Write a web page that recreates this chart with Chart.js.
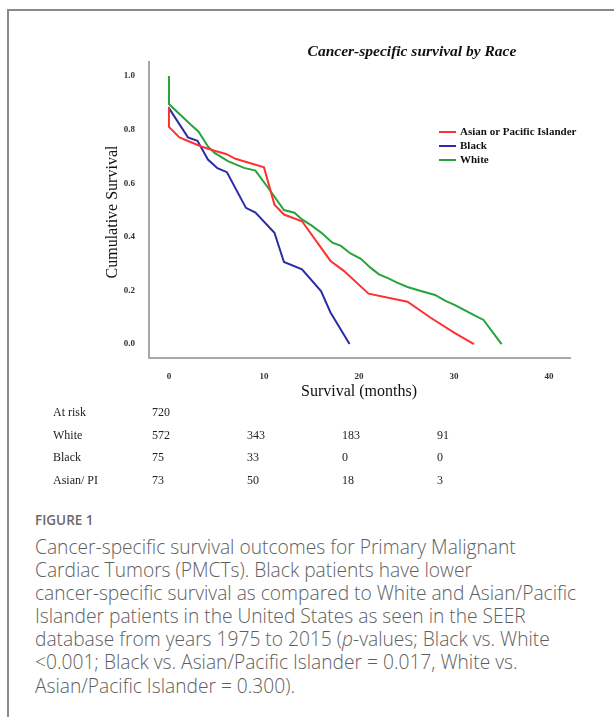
<!DOCTYPE html>
<html>
<head>
<meta charset="utf-8">
<script src="https://cdn.jsdelivr.net/npm/chart.js@4"></script>
<style>
  html, body { margin: 0; padding: 0; background: #fff; }
  body { width: 614px; height: 717px; position: relative; overflow: hidden; }
  #frame { position: absolute; left: 7px; top: 9px; width: 620px; height: 720px;
           border-top: 2px solid #8a8a8a; border-left: 2px solid #8a8a8a; }
  #survChart { position: absolute; left: 0; top: 0; }
  #caption { position: absolute; left: 35px; top: 509px; color: #5e5e5e;
             font-family: "Open Sans", sans-serif; white-space: nowrap; }
  #caption .fig { font-size: 13.5px; font-weight: 600; color: #6a6a6a; line-height: 22px; }
  #caption .txt { font-size: 19.2px; font-weight: 300; line-height: 23.1px; margin-top: 4px; }
</style>
</head>
<body>
<div id="frame"></div>
<canvas id="survChart" width="614" height="500"></canvas>
<div id="caption">
  <div class="fig">FIGURE 1</div>
  <div class="txt">Cancer-specific survival outcomes for Primary Malignant<br>Cardiac Tumors (PMCTs). Black patients have lower<br>cancer-specific survival as compared to White and Asian/Pacific<br>Islander patients in the United States as seen in the SEER<br>database from years 1975 to 2015 (<i>p</i>-values; Black vs. White<br>&lt;0.001; Black vs. Asian/Pacific Islander = 0.017, White vs.<br>Asian/Pacific Islander = 0.300).</div>
</div>
<script>
// Kaplan-Meier curves (months, cumulative survival)
const asianMonths = [0, 0, 1.1, 3.4, 4.8, 6.0, 7.0, 10.0, 11.1, 12.1, 14.0, 17.0, 18.4, 21.0, 25.1, 27.5, 30.0, 32.1];
const asianSurv = [0.885, 0.81, 0.771, 0.737, 0.721, 0.709, 0.691, 0.659, 0.52, 0.483, 0.458, 0.31, 0.273, 0.188, 0.158, 0.099, 0.043, 0.0];

const blackMonths = [0, 2.0, 3.0, 4.1, 5.1, 6.1, 8.1, 9.1, 11.1, 12.1, 14.0, 16.0, 17.0, 19.0];
const blackSurv = [0.88, 0.771, 0.758, 0.688, 0.656, 0.641, 0.508, 0.49, 0.415, 0.306, 0.279, 0.198, 0.118, 0.0];

const whiteMonths = [0, 0, 2.3, 3.1, 4.1, 4.8, 6.2, 7.9, 9.1, 10.7, 12.1, 13.2, 14.0, 15.1, 16.1, 17.2, 18.1, 19.1, 20.2, 21.2, 22.1, 23.1, 24.0, 25.1, 26.5, 28.0, 29.1, 30.1, 31.0, 32.1, 33.1, 35.0];
const whiteSurv = [1.0, 0.895, 0.818, 0.793, 0.737, 0.713, 0.682, 0.657, 0.647, 0.57, 0.5, 0.49, 0.465, 0.44, 0.413, 0.378, 0.366, 0.338, 0.318, 0.285, 0.26, 0.245, 0.229, 0.213, 0.198, 0.183, 0.161, 0.145, 0.128, 0.108, 0.09, 0.0];

const xTicks = [0, 10, 20, 30, 40];
const yTicks = [0, 0.2, 0.4, 0.6, 0.8, 1.0];

// At-risk table under the plot
const riskMonths = [0, 10, 20, 30];
const riskRowLabels = ['At risk', 'White', 'Black', 'Asian/ PI'];
const riskTotal = [720];
const riskWhite = [572, 343, 183, 91];
const riskBlack = [75, 33, 0, 0];
const riskAsian = [73, 50, 18, 3];

const seriesNames = ['Asian or Pacific Islander', 'Black', 'White'];
const seriesColors = ['#ff3030', '#2c2ca6', '#24a43a'];

const toPoints = (xs, ys) => xs.map((x, i) => ({ x, y: ys[i] }));

const serif = '"Liberation Serif", "Times New Roman", serif';

// titles, legend and the at-risk rows are drawn on top of the chart
const extras = {
  id: 'extras',
  afterDraw(chart) {
    const { ctx, scales: { x } } = chart;
    ctx.save();
    ctx.fillStyle = '#111';
    ctx.textBaseline = 'middle';

    ctx.font = 'italic bold 15.5px ' + serif;
    ctx.textAlign = 'center';
    ctx.fillText('Cancer-specific survival by Race', 412, 52);

    ctx.font = '16px ' + serif;
    ctx.fillText('Survival (months)', x.getPixelForValue(20), 392);

    ctx.save();
    ctx.translate(113, 212);
    ctx.rotate(-Math.PI / 2);
    ctx.fillText('Cumulative Survival', 0, 0);
    ctx.restore();

    // legend
    ctx.textAlign = 'left';
    ctx.font = 'bold 11px ' + serif;
    seriesNames.forEach((name, i) => {
      const yy = 132 + i * 14;
      ctx.strokeStyle = seriesColors[i];
      ctx.lineWidth = 2;
      ctx.beginPath();
      ctx.moveTo(439, yy);
      ctx.lineTo(456, yy);
      ctx.stroke();
      ctx.fillStyle = '#111';
      ctx.fillText(name, 460, yy);
    });

    // at-risk numbers
    ctx.font = '12px ' + serif;
    ctx.fillStyle = '#222';
    const rows = [riskTotal, riskWhite, riskBlack, riskAsian];
    rows.forEach((vals, r) => {
      const yy = 413 + r * 22.6;
      ctx.fillText(riskRowLabels[r], 53, yy);
      vals.forEach((v, c) => {
        ctx.fillText(String(v), x.getPixelForValue(riskMonths[c]) - 17, yy);
      });
    });
    ctx.restore();
  }
};

new Chart(document.getElementById('survChart'), {
  type: 'line',
  data: {
    datasets: [
      { label: seriesNames[0], data: toPoints(asianMonths, asianSurv), borderColor: seriesColors[0] },
      { label: seriesNames[1], data: toPoints(blackMonths, blackSurv), borderColor: seriesColors[1] },
      { label: seriesNames[2], data: toPoints(whiteMonths, whiteSurv), borderColor: seriesColors[2] },
    ],
  },
  options: {
    responsive: false,
    animation: false,
    layout: { padding: { top: 62, right: 44, left: 0, bottom: 0 } },
    elements: {
      line: { borderWidth: 2, tension: 0, fill: false },
      point: { radius: 0 },
    },
    plugins: { legend: { display: false }, tooltip: { enabled: false } },
    scales: {
      x: {
        type: 'linear',
        min: -2.1,
        max: 42.2,
        afterFit: (s) => { s.height = 142; },
        afterBuildTicks: (s) => { s.ticks = xTicks.map((v) => ({ value: v })); },
        grid: { display: false },
        border: { display: true, color: '#a8a8a8', width: 2 },
        ticks: { padding: 5, color: '#333', font: { family: serif, size: 9, weight: 'bold' } },
      },
      y: {
        min: -0.052,
        max: 1.052,
        afterFit: (s) => { s.width = 149; },
        afterBuildTicks: (s) => { s.ticks = yTicks.map((v) => ({ value: v })); },
        grid: { display: false },
        border: { display: true, color: '#a8a8a8', width: 2 },
        ticks: {
          padding: 6,
          color: '#333',
          font: { family: serif, size: 9, weight: 'bold' },
          callback: (v) => Number(v).toFixed(1),
        },
      },
    },
  },
  plugins: [extras],
});
</script>
</body>
</html>
